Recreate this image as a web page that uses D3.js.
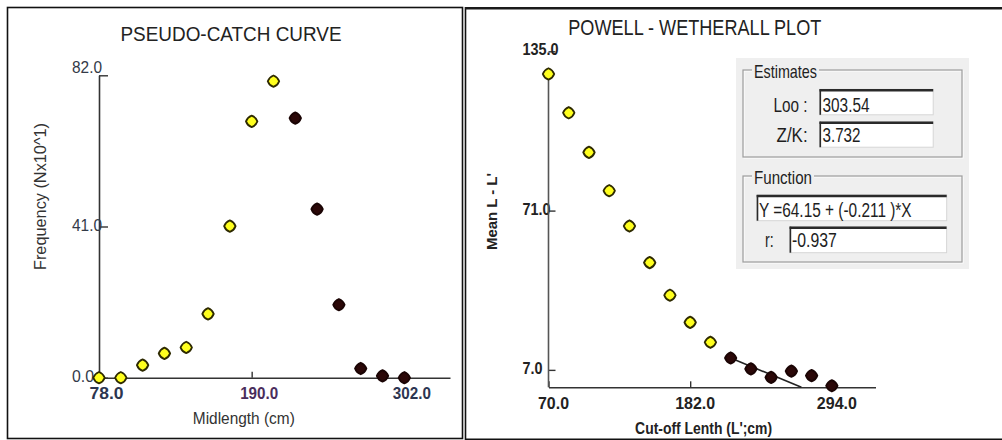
<!DOCTYPE html>
<html>
<head>
<meta charset="utf-8">
<script src="https://cdn.jsdelivr.net/npm/d3@7"></script>
<style>
  body { margin: 0; background: #fff; }
  svg { display: block; font-family: "Liberation Sans", Arial, sans-serif; }
</style>
</head>
<body>
<svg id="chart" width="1002" height="440"></svg>
<script>
// ---- Pseudo-catch curve: frequency by midlength class ----
const catchMidlength = [78, 94, 110, 126, 142, 158, 174, 190, 206, 222, 238, 254, 270, 286, 302];
const catchFrequency = [0, 0, 3.4, 6.6, 8.2, 17.3, 41.1, 69.5, 80.4, 70.4, 45.7, 19.8, 2.5, 0.5, 0];
const catchInFit     = [0, 0, 0, 0, 0, 0, 0, 0, 0, 1, 1, 1, 1, 1, 1];
const catchXTicks = [78, 190, 302];
const catchYTicks = [0, 41, 82];

// ---- Powell-Wetherall plot: mean L - L' against cut-off length ----
const cutoffLength    = [70, 86, 102, 118, 134, 150, 166, 182, 198, 214, 230, 246, 262, 278, 294];
const meanMinusCutoff = [125.9, 110.3, 94.4, 79.0, 64.8, 50.1, 37.0, 26.1, 18.1, 11.8, 7.4, 4.0, 6.5, 4.7, 0.6];
const powellInFit     = [0, 0, 0, 0, 0, 0, 0, 0, 0, 1, 1, 1, 1, 1, 1];
const powellXTicks = [70, 182, 294];
const powellYTicks = [7, 71, 135];

// ---- Estimates ----
const estimateLabels = ["Loo :", "Z/K:"];
const estimateValues = ["303.54", "3.732"];
const fitIntercept = 64.15;
const fitSlope = -0.211;
const fitR = -0.937;

const svg = d3.select("#chart");
const fmt1 = d3.format(".1f");

// Rounded-diamond marker used by both plots
const roundDiamond = {
  draw(ctx, size) {
    const r = Math.sqrt(size) / 2, k = 0.74 * r;
    ctx.moveTo(0, -r);
    ctx.quadraticCurveTo(k, -k, r, 0);
    ctx.quadraticCurveTo(k, k, 0, r);
    ctx.quadraticCurveTo(-k, k, -r, 0);
    ctx.quadraticCurveTo(-k, -k, 0, -r);
    ctx.closePath();
  }
};
const markerPath = d3.symbol().type(roundDiamond).size(130)();
const markerStyle = inFit => inFit
  ? { fill: "#2b0808", stroke: "#1a0404" }
  : { fill: "#ffff1e", stroke: "#2e2a00" };

// ---- Panel frames ----
svg.append("rect").attr("x", 7.5).attr("y", 7.5).attr("width", 455).attr("height", 431)
  .attr("fill", "none").attr("stroke", "#111").attr("stroke-width", 1.6);
svg.append("line").attr("x1", 465.5).attr("x2", 465.5).attr("y1", 7).attr("y2", 440)
  .attr("stroke", "#111").attr("stroke-width", 1.6);
svg.append("line").attr("x1", 465).attr("x2", 1002).attr("y1", 8.2).attr("y2", 8.2)
  .attr("stroke", "#1a1a1a").attr("stroke-width", 2.6);
svg.append("line").attr("x1", 465).attr("x2", 1002).attr("y1", 439.2).attr("y2", 439.2)
  .attr("stroke", "#111").attr("stroke-width", 1.6);

// =====================================================
// Left panel: PSEUDO-CATCH CURVE
// =====================================================
const xL = d3.scaleLinear().domain([78, 335.5]).range([99, 450]);
const yL = d3.scaleLinear().domain([0, 82]).range([377.7, 75.3]);

svg.append("text").attr("x", 231).attr("y", 40.5).attr("text-anchor", "middle")
  .attr("font-size", 21).attr("fill", "#222")
  .attr("textLength", 221).attr("lengthAdjust", "spacingAndGlyphs")
  .text("PSEUDO-CATCH CURVE");

const gxL = svg.append("g").attr("transform", `translate(0,${yL(0)})`)
  .call(d3.axisBottom(xL).tickValues(catchXTicks).tickSize(-6).tickSizeOuter(0).tickFormat(fmt1));
gxL.select(".domain").attr("stroke", "#333").attr("stroke-width", 1.6);
gxL.selectAll(".tick line").attr("stroke", "#333").attr("stroke-width", 1.4);
gxL.selectAll(".tick text").attr("y", 21).attr("dy", null).attr("dx", 7)
  .attr("font-size", 16).attr("font-weight", "bold").attr("font-family", "Liberation Sans, Arial, sans-serif")
  .attr("textLength", d => d < 100 ? 34 : 38).attr("lengthAdjust", "spacingAndGlyphs")
  .attr("fill", d => d === 190 ? "#4a2d5c" : "#2c3550");

const gyL = svg.append("g").attr("transform", `translate(${xL(78)},0)`)
  .call(d3.axisLeft(yL).tickValues(catchYTicks).tickSize(-9).tickSizeOuter(0).tickFormat(fmt1));
gyL.select(".domain").attr("stroke", "#333").attr("stroke-width", 1.6);
gyL.selectAll(".tick line").attr("stroke", "#333").attr("stroke-width", 1.4);
gyL.selectAll(".tick text").attr("text-anchor", "start").attr("x", -27)
  .attr("dy", "0.35em").attr("y", d => d === 82 ? -8 : -2)
  .attr("font-size", 16).attr("font-family", "Liberation Sans, Arial, sans-serif").attr("fill", "#333a48")
  .attr("textLength", d => d === 0 ? 22 : 30).attr("lengthAdjust", "spacingAndGlyphs");

svg.append("text").attr("x", 243.8).attr("y", 423.5).attr("text-anchor", "middle")
  .attr("font-size", 16).attr("fill", "#333")
  .attr("textLength", 102).attr("lengthAdjust", "spacingAndGlyphs")
  .text("Midlength (cm)");
svg.append("text").attr("transform", "translate(46,196.5) rotate(-90)").attr("text-anchor", "middle")
  .attr("font-size", 16).attr("fill", "#333")
  .attr("textLength", 147).attr("lengthAdjust", "spacingAndGlyphs")
  .text("Frequency (Nx10^1)");

svg.append("g").selectAll("path")
  .data(catchMidlength.map((m, i) => ({ x: m, y: catchFrequency[i], fit: catchInFit[i] })))
  .join("path")
  .attr("d", markerPath)
  .attr("transform", d => `translate(${xL(d.x)},${yL(d.y)})`)
  .attr("fill", d => markerStyle(d.fit).fill)
  .attr("stroke", d => markerStyle(d.fit).stroke)
  .attr("stroke-width", 1.8);

// =====================================================
// Right panel: POWELL - WETHERALL PLOT
// =====================================================
const xR = d3.scaleLinear().domain([70, 328.5]).range([548.5, 875.5]);
const yR = d3.scaleLinear().domain([0, 135]).range([387.3, 51.3]);

svg.append("text").attr("x", 694.8).attr("y", 35).attr("text-anchor", "middle")
  .attr("font-size", 22).attr("fill", "#222")
  .attr("textLength", 253).attr("lengthAdjust", "spacingAndGlyphs")
  .text("POWELL - WETHERALL PLOT");

const gxR = svg.append("g").attr("transform", `translate(0,${yR(0)})`)
  .call(d3.axisBottom(xR).tickValues(powellXTicks).tickSize(-6).tickSizeOuter(0).tickFormat(fmt1));
gxR.select(".domain").attr("stroke", "#333").attr("stroke-width", 1.6);
gxR.selectAll(".tick line").attr("stroke", "#333").attr("stroke-width", 1.4);
gxR.selectAll(".tick text").attr("y", 22).attr("dy", null).attr("dx", 4.5)
  .attr("font-size", 17).attr("font-weight", "bold").attr("font-family", "Liberation Sans, Arial, sans-serif")
  .attr("textLength", d => d < 100 ? 31 : 40).attr("lengthAdjust", "spacingAndGlyphs")
  .attr("fill", "#222");

const gyR = svg.append("g").attr("transform", `translate(${xR(70)},0)`)
  .call(d3.axisLeft(yR).tickValues(powellYTicks).tickSize(-7).tickSizeOuter(0).tickFormat(fmt1));
gyR.select(".domain").remove();
gyR.append("line").attr("x1", 0).attr("x2", 0)
  .attr("y1", yR(0)).attr("y2", yR(d3.max(meanMinusCutoff)))
  .attr("stroke", "#555").attr("stroke-width", 1.6);
gyR.selectAll(".tick line").attr("stroke", "#333").attr("stroke-width", 1.4);
gyR.selectAll(".tick text").attr("text-anchor", "start").attr("x", -26)
  .attr("dy", "0.35em").attr("y", -2)
  .attr("font-size", 16).attr("font-weight", "bold").attr("font-family", "Liberation Sans, Arial, sans-serif").attr("fill", "#222")
  .attr("textLength", d => d > 100 ? 36 : d > 9 ? 28 : 20).attr("lengthAdjust", "spacingAndGlyphs");

svg.append("text").attr("transform", "translate(497,211.5) rotate(-90)").attr("text-anchor", "middle")
  .attr("font-size", 15).attr("font-weight", "bold").attr("fill", "#222")
  .attr("textLength", 77).attr("lengthAdjust", "spacingAndGlyphs")
  .text("Mean L - L'");
svg.append("text").attr("x", 703.6).attr("y", 434).attr("text-anchor", "middle")
  .attr("font-size", 16).attr("font-weight", "bold").attr("fill", "#222")
  .attr("textLength", 137).attr("lengthAdjust", "spacingAndGlyphs")
  .text("Cut-off Lenth (L';cm)");

// Regression segment through the selected points, with the reported slope
const fitStart = powellInFit.indexOf(1);
const fx0 = cutoffLength[fitStart], fy0 = meanMinusCutoff[fitStart];
const fx1 = fx0 - fy0 / fitSlope;
svg.append("line")
  .attr("x1", xR(fx0)).attr("y1", yR(fy0))
  .attr("x2", xR(fx1)).attr("y2", yR(0))
  .attr("stroke", "#222").attr("stroke-width", 1.6);

svg.append("g").selectAll("path")
  .data(cutoffLength.map((c, i) => ({ x: c, y: meanMinusCutoff[i], fit: powellInFit[i] })))
  .join("path")
  .attr("d", markerPath)
  .attr("transform", d => `translate(${xR(d.x)},${yR(d.y)})`)
  .attr("fill", d => markerStyle(d.fit).fill)
  .attr("stroke", d => markerStyle(d.fit).stroke)
  .attr("stroke-width", 1.8);

// ---- Estimates dialog ----
const dlg = svg.append("g").attr("font-family", "Liberation Sans Narrow, Arial Narrow, Liberation Sans, sans-serif");
dlg.append("rect").attr("x", 736).attr("y", 58).attr("width", 233).attr("height", 211).attr("fill", "#efefef");

function groupBox(x, y, w, h, label, labelW) {
  dlg.append("rect").attr("x", x + 1).attr("y", y + 1).attr("width", w).attr("height", h)
    .attr("fill", "none").attr("stroke", "#fff").attr("stroke-width", 1);
  dlg.append("rect").attr("x", x).attr("y", y).attr("width", w).attr("height", h)
    .attr("fill", "none").attr("stroke", "#9c9c9c").attr("stroke-width", 1.2);
  dlg.append("rect").attr("x", x + 9).attr("y", y - 4).attr("width", labelW + 4).attr("height", 8).attr("fill", "#efefef");
  dlg.append("text").attr("x", x + 11).attr("y", y + 8).attr("font-size", 19).attr("fill", "#222")
    .attr("textLength", labelW).attr("lengthAdjust", "spacingAndGlyphs").text(label);
}
function textBox(x, y, w, h) {
  dlg.append("rect").attr("x", x).attr("y", y).attr("width", w).attr("height", h)
    .attr("fill", "#fff").attr("stroke", "#d6d6d6").attr("stroke-width", 1);
  dlg.append("line").attr("x1", x).attr("x2", x + w).attr("y1", y + 1).attr("y2", y + 1)
    .attr("stroke", "#2a2a2a").attr("stroke-width", 2.4);
  dlg.append("line").attr("x1", x + 0.8).attr("x2", x + 0.8).attr("y1", y).attr("y2", y + h)
    .attr("stroke", "#2a2a2a").attr("stroke-width", 1.6);
}
function boxText(x, y, str, w, anchor) {
  dlg.append("text").attr("x", x).attr("y", y).attr("font-size", 20).attr("fill", "#1e1e1e")
    .attr("text-anchor", anchor || "start")
    .attr("textLength", w).attr("lengthAdjust", "spacingAndGlyphs").text(str);
}

groupBox(743, 70, 219, 87, "Estimates", 63);
groupBox(743, 176, 219, 86, "Function", 58);

const estRows = [{ y: 89.3, base: 111.7 }, { y: 121.7, base: 142 }];
const labelW = [34, 31], valueW = [47, 38];
estimateLabels.forEach((lab, i) => {
  textBox(819.5, estRows[i].y, 113.7, 25.5);
  boxText(807.6, estRows[i].base, lab, labelW[i], "end");
  boxText(822.5, estRows[i].base, estimateValues[i], valueW[i]);
});

textBox(756.7, 195, 190, 25.7);
boxText(759, 217, `Y =${fitIntercept.toFixed(2)} + (${fitSlope.toFixed(3)} )*X`, 152.6);
textBox(789.6, 226.7, 157, 26);
boxText(765, 246.7, "r:", 8.7);
boxText(792, 247, fitR.toFixed(3), 44.8);
</script>
</body>
</html>
